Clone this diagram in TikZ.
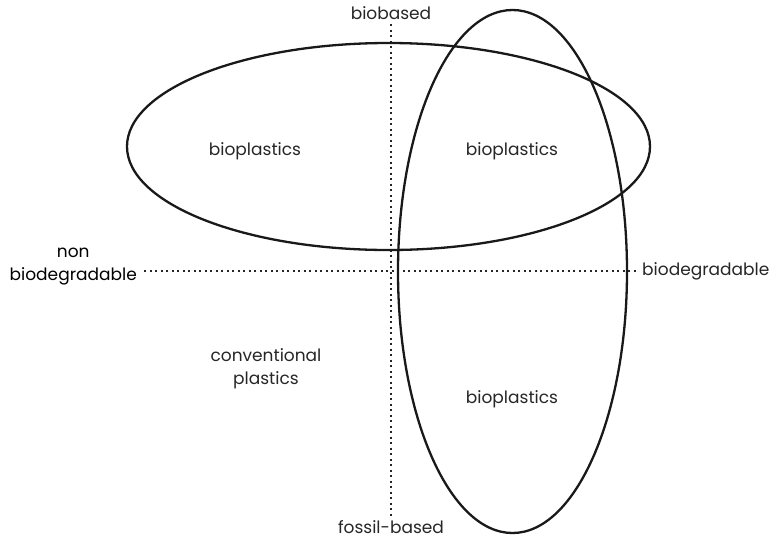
\documentclass[tikz,border=0pt]{standalone}
\usepackage{fontspec}
\setmainfont{Poppins}
\begin{document}
\begin{tikzpicture}[x=1pt,y=-1pt,
  axis/.style={line width=2pt, dash pattern=on 2pt off 3.5pt, black!85},
  blob/.style={line width=2.3pt, black!90},
  lbl/.style={font=\fontsize{17}{23}\selectfont, text=black!85, inner sep=0pt, align=center}]
\useasboundingbox (0,0) rectangle (774,539);
\coordinate (vtop) at (391,24);
\coordinate (vbot) at (391,517);
\coordinate (hl) at (144,271);
\coordinate (hr) at (636,271);
\draw[axis] (vtop) -- (vbot);
\draw[axis] (hl) -- (hr);
\draw[blob] (388.5,146.5) ellipse [x radius=261.5, y radius=103.5];
\draw[blob] (512.5,271.5) ellipse [x radius=114.5, y radius=261.5];
\node[lbl] (bb) at (391,13) {biobased};
\node[lbl] (fb) at (391,527) {fossil-based};
\node[lbl, anchor=east, text=black] (nb) at (137,267) {non\\biodegradable};
\node[lbl, anchor=west] (bd) at (642,271) {biodegradable};
\node[lbl] (b1) at (255,151) {bioplastics};
\node[lbl] (b2) at (512,151) {bioplastics};
\node[lbl] (b3) at (512,399) {bioplastics};
\node[lbl] (cp) at (266,369) {conventional\\plastics};
\end{tikzpicture}
\end{document}
